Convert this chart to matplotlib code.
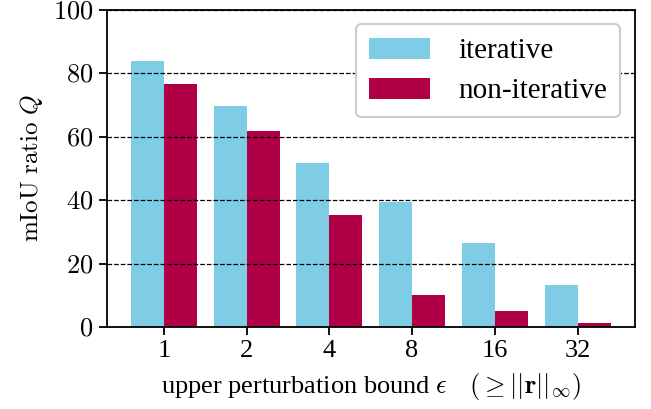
import matplotlib
matplotlib.use("Agg")
import matplotlib.pyplot as plt
import numpy as np

plt.rcParams['font.family'] = ['Liberation Serif', 'DejaVu Serif']
plt.rcParams['mathtext.fontset'] = 'cm'

# data
eps_labels = ['1', '2', '4', '8', '16', '32']
iterative = [84.0, 69.7, 51.7, 39.5, 26.5, 13.2]
non_iterative = [76.7, 61.8, 35.3, 10.1, 5.0, 1.3]

c_it = '#7ecce5'
c_non = '#b00045'

fig, ax = plt.subplots(figsize=(6.51, 4.09), dpi=100)
fig.subplots_adjust(left=0.164, right=0.975, top=0.976, bottom=0.2)

x = np.arange(len(eps_labels))
w = 0.4
ax.bar(x - w/2, iterative, w, color=c_it, label='iterative', zorder=1)
ax.bar(x + w/2, non_iterative, w, color=c_non, label='non-iterative', zorder=1)

ax.set_ylim(0, 100)
yt = [0, 20, 40, 60, 80, 100]
ax.set_yticks(yt)
ax.set_yticklabels(['$%d$' % v for v in yt], fontsize=19)
ax.set_xticks(x)
ax.set_xticklabels(eps_labels, fontsize=19)

ax.yaxis.grid(True, linestyle='--', color='k', linewidth=0.9, zorder=2)
ax.set_axisbelow(False)

for s in ax.spines.values():
    s.set_linewidth(1.3)
ax.tick_params(width=1.3, length=6)

ax.set_ylabel(r'$\mathrm{mIoU\ ratio}\ Q$', fontsize=18, labelpad=6)
ax.set_xlabel(r'upper perturbation bound $\epsilon\quad(\geq||\mathbf{r}||_\infty)$', fontsize=19,
              labelpad=6)

leg = ax.legend(loc='upper right', fontsize=21, handlelength=2.1, handleheight=0.75,
                borderpad=0.45, labelspacing=0.45, handletextpad=0.95,
                edgecolor='#cccccc', fancybox=True, framealpha=1.0)
leg.get_frame().set_linewidth(1.5)

plt.savefig('out.png', dpi=100)
